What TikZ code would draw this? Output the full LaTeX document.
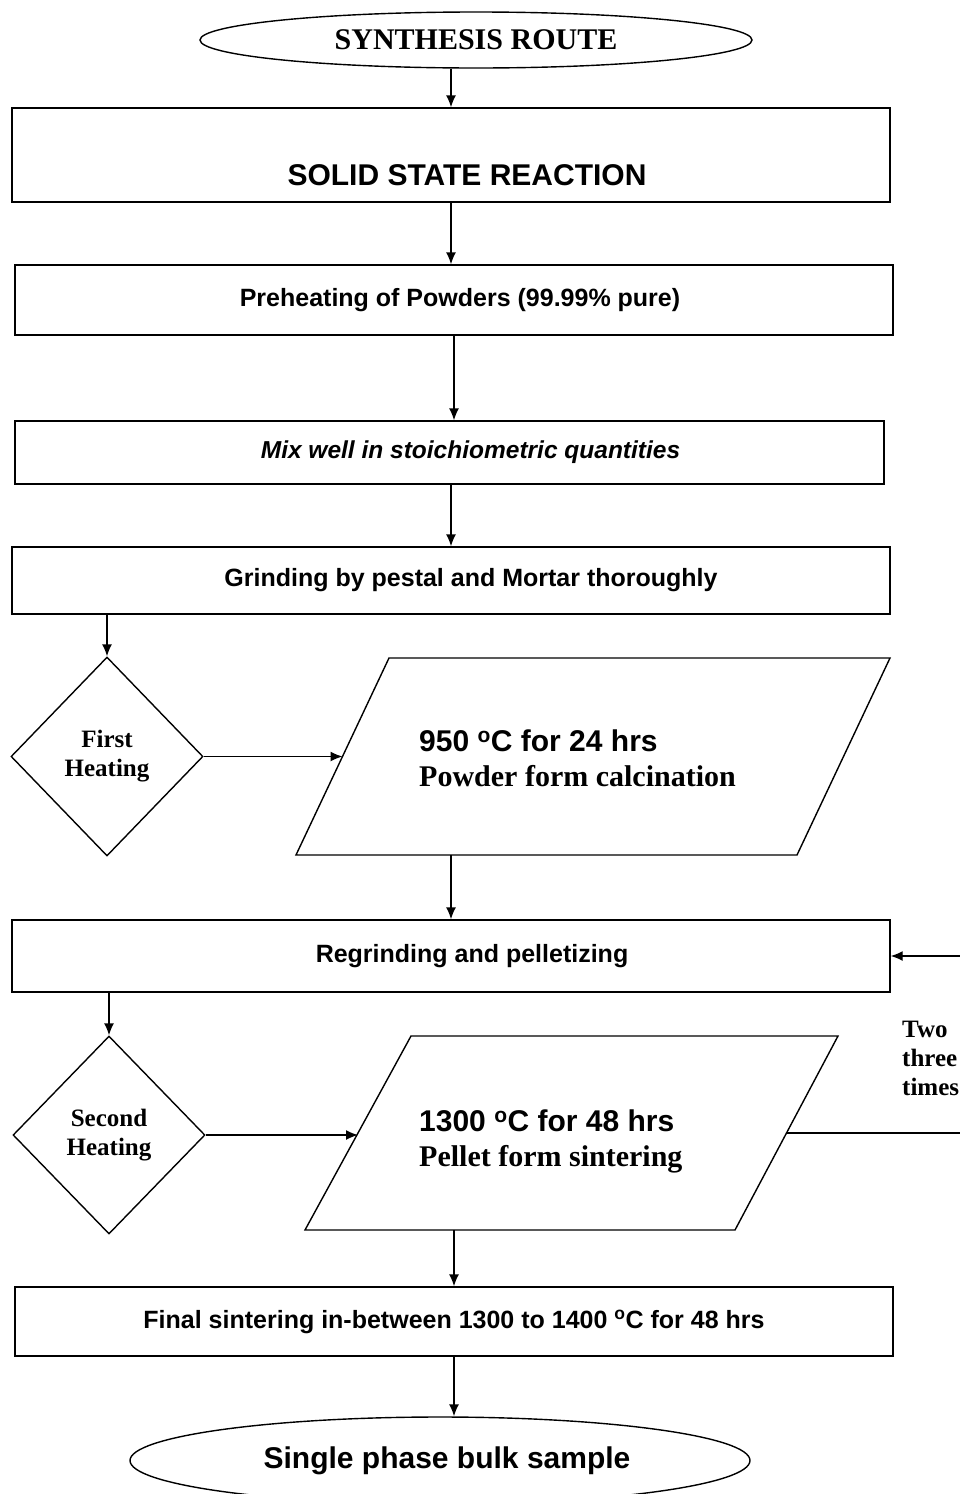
\documentclass[tikz,border=0pt]{standalone}
\usepackage{fontspec}
\setmainfont{Liberation Sans}
\newfontfamily\timesfont{Liberation Serif}
\usetikzlibrary{shapes.geometric,arrows.meta}

\tikzset{
	flowbox/.style={draw,rectangle,line width=1.4pt,inner sep=0pt,font=\bfseries\fontsize{25}{30}\selectfont},
	textright/.style={execute at begin node={\hspace*{#1}}},
	decision/.style={draw,diamond,line width=1.4pt,inner sep=0pt,align=center,font=\timesfont\bfseries\fontsize{25}{29}\selectfont},
	terminal/.style={draw,ellipse,line width=1.4pt,inner sep=0pt},
	ioblock/.style={draw,line width=1.4pt,line join=miter},
	iotext/.style={anchor=west,align=left,inner sep=0pt,font=\bfseries\fontsize{30}{35}\selectfont},
	flow/.style={-{Latex[length=12pt,width=10pt]},line width=1.4pt}
}

\newcommand{\degC}{\textsuperscript{o}C}

\begin{document}
\begin{tikzpicture}[x=1pt,y=-1pt]
	\useasboundingbox (0,0) rectangle (960,1494);

	% Draw start and main boxes
	\node[terminal,minimum width=552,minimum height=56,font=\timesfont\bfseries\fontsize{30}{36}\selectfont] (route) at (476,40) {SYNTHESIS ROUTE};
	\node[flowbox,textright=32pt,minimum width=878,minimum height=94,text height=66pt,text depth=6pt,font=\bfseries\fontsize{30}{36}\selectfont] (solid) at (451,155) {SOLID STATE REACTION};
	\node[flowbox,textright=12pt,minimum width=878,minimum height=70] (preheat) at (454,300) {Preheating of Powders (99.99\% pure)};
	\node[flowbox,textright=42pt,minimum width=869,minimum height=63,font=\bfseries\itshape\fontsize{24.5}{30}\selectfont] (mix) at (449.5,452.5) {Mix well in stoichiometric quantities};
	\node[flowbox,textright=40pt,minimum width=878,minimum height=67] (grind) at (451,580.5) {Grinding by pestal and Mortar thoroughly};

	% First heating
	\node[decision,minimum width=192,minimum height=199] (heat1) at (107,756.5) {First\\Heating};
	\draw[ioblock] (296,855) coordinate (calcsw) -- coordinate (calcw) (389,658) -- (890,658) -- (797,855) -- cycle;
	\node[iotext] (calctext) at (419,758) {950 \degC{} for 24 hrs\\{\timesfont Powder form calcination}};

	% Second heating
	\node[flowbox,textright=42pt,minimum width=878,minimum height=72] (regrind) at (451,956) {Regrinding and pelletizing};
	\node[decision,minimum width=192,minimum height=198] (heat2) at (109,1135) {Second\\Heating};
	\draw[ioblock] (305,1230) coordinate (sintersw) -- coordinate (sinterw) (411,1036) -- (838,1036) -- coordinate (sintere) (735,1230) -- cycle;
	\node[iotext] (sintertext) at (419,1141) {1300 \degC{} for 48 hrs\\{\timesfont Pellet form sintering}};
	\node[iotext,font=\timesfont\bfseries\fontsize{25}{29}\selectfont] (repeat) at (902,1058) {Two\\three\\times};
	\coordinate (loopx) at (961,0);

	% Final steps
	\node[flowbox,minimum width=878,minimum height=69] (final) at (454,1321.5) {Final sintering in-between 1300 to 1400 \degC{} for 48 hrs};
	\node[terminal,textright=14pt,minimum width=620,minimum height=87,font=\bfseries\fontsize{30}{36}\selectfont] (sample) at (440,1460.5) {Single phase bulk sample};

	% Draw arrows
	\draw[flow] (solid.north |- route.south) -- (solid.north);
	\draw[flow] (solid.south) -- (solid.south |- preheat.north);
	\draw[flow] (preheat.south) -- (preheat.south |- mix.north);
	\draw[flow] (grind.north |- mix.south) -- (grind.north);
	\draw[flow] (heat1.north |- grind.south) -- (heat1.north);
	\draw[flow] (heat1.east) -- (calcw);
	\draw[flow] (regrind.north |- calcsw) -- (regrind.north);
	\draw[flow] (heat2.north |- regrind.south) -- (heat2.north);
	\draw[flow] (heat2.east) -- (heat2.east -| sinterw);
	\draw[flow] (sintere) -- (sintere -| loopx) |- (regrind.east);
	\draw[flow] (final.north |- sintersw) -- (final.north);
	\draw[flow] (final.south) -- (final.south |- sample.north);
\end{tikzpicture}
\end{document}
